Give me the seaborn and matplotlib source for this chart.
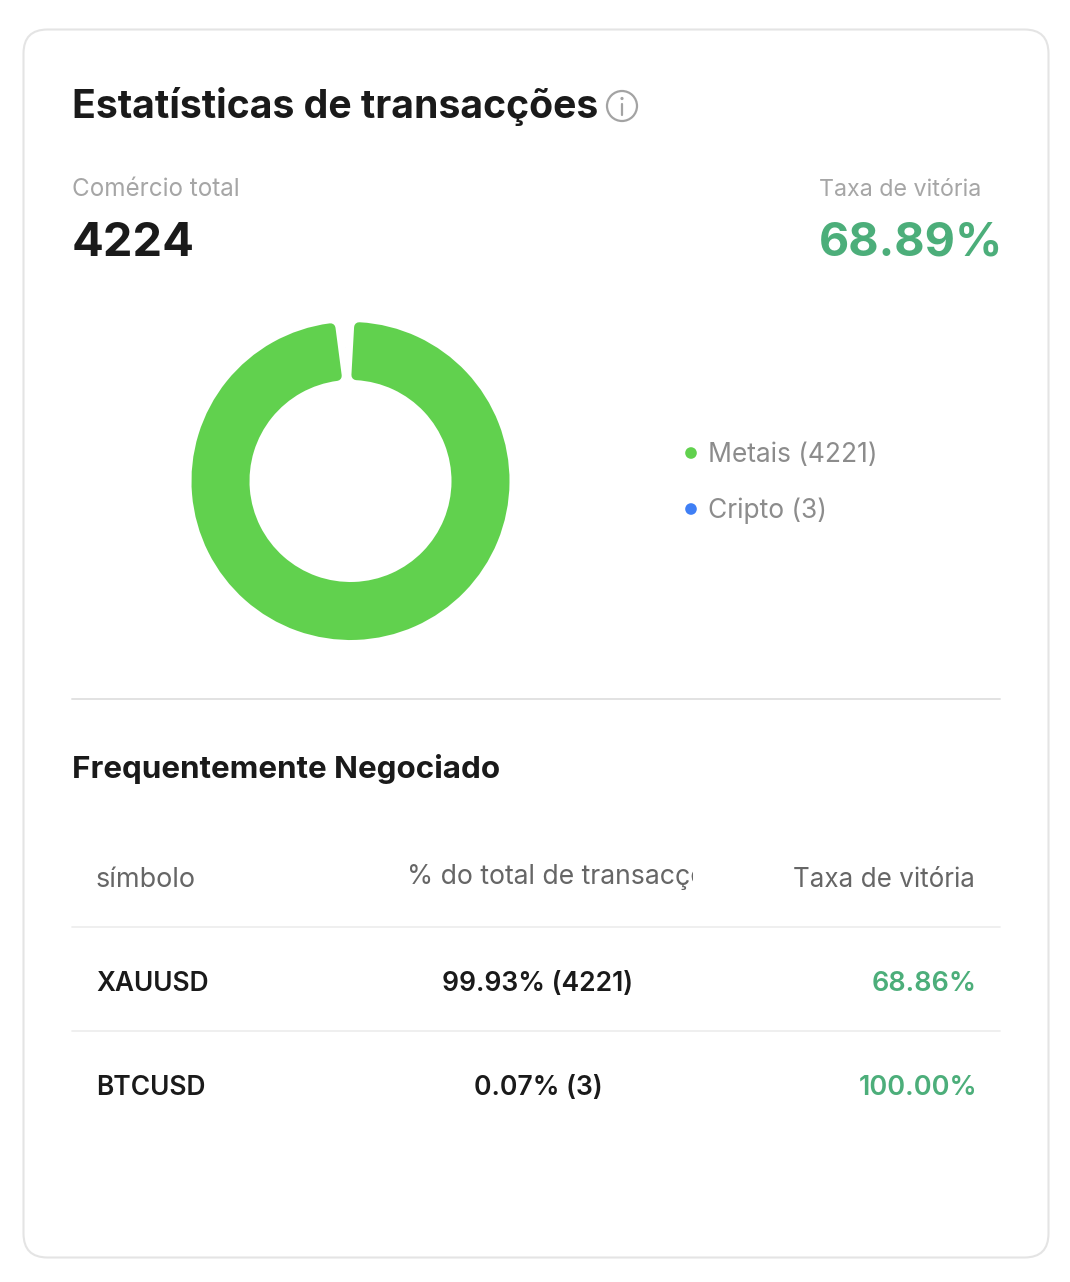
import matplotlib
matplotlib.use('Agg')
import matplotlib.pyplot as plt
from matplotlib.patches import Circle, FancyBboxPatch
from matplotlib.transforms import Bbox
import pandas as pd
import seaborn as sns

# dati
categories = ['Metais', 'Cripto']
trades = [4221, 3]
total_trades = '4224'
win_rate = '68.89%'
symbols = ['XAUUSD', 'BTCUSD']
shares = ['99.93% (4221)', '0.07% (3)']
symbol_rates = ['68.86%', '100.00%']
headers = ['símbolo', '% do total de transacções', 'Taxa de vitória']

GREEN = '#61d14e'
BLUE = '#3f7ff5'
WIN = '#4cae7a'
DARK = '#1a1a1a'
W, H = 1070, 1282


def px(size):
    # da pixel a punti (dpi 100)
    return size * 0.72


sns.set_theme(style='white')
plt.rcParams['font.family'] = ['Inter', 'DejaVu Sans']

fig = plt.figure(figsize=(W / 100, H / 100), dpi=100, facecolor='white')

# asse di sfondo in pixel per card e testi
ax = fig.add_axes([0, 0, 1, 1])
ax.set_xlim(0, W)
ax.set_ylim(H, 0)
ax.axis('off')

ax.add_patch(FancyBboxPatch((23.5, 29.5), 1025, 1228, boxstyle='round,pad=0,rounding_size=24',
                            fc='white', ec='#e4e4e4', lw=1.5))

ax.text(72, 118, 'Estatísticas de transacções', fontsize=px(39.2), fontweight='bold', color=DARK)
ax.add_patch(Circle((622, 106), 15, fc='none', ec='#a3a3a3', lw=1.6))
ax.plot([622, 622], [104, 115], color='#a3a3a3', lw=1.6)
ax.add_patch(Circle((622, 98.5), 1.6, fc='#a3a3a3', ec='none'))

ax.text(72, 196, 'Comércio total', fontsize=px(24.2), color='#a6a6a6')
ax.text(72, 256, total_trades, fontsize=px(47), fontweight='bold', color=DARK)
ax.text(819, 196, 'Taxa de vitória', fontsize=px(23.3), color='#a6a6a6')
ax.text(819, 256, win_rate, fontsize=px(46.7), fontweight='bold', color=WIN)

# legenda
legend = pd.DataFrame({'x': [691, 691], 'y': [453, 509], 'cat': categories})
sns.scatterplot(data=legend, x='x', y='y', hue='cat', palette=[GREEN, BLUE], s=70,
                linewidth=0, legend=False, ax=ax)
ax.set_xlim(0, W)
ax.set_ylim(H, 0)
for cat, n, y in zip(categories, trades, legend['y']):
    ax.text(708, y + 9, f'{cat} ({n})', fontsize=px(26.4), color='#8c8c8c')

ax.plot([72, 1000], [699, 699], color='#e2e2e2', lw=1.4)
ax.text(72, 778, 'Frequentemente Negociado', fontsize=px(31.4), fontweight='bold', color=DARK)

# intestazione tabella (la colonna centrale e tagliata come nell'originale)
ax.text(96, 887, headers[0], fontsize=px(27), color='#666666')
head = ax.text(407, 884, headers[1], fontsize=px(26.6), color='#666666')
head.set_clip_box(Bbox.from_extents(400, 300, 693, 500))
head.set_clip_on(True)
ax.text(975, 887, headers[2], fontsize=px(26), color='#666666', ha='right')

row_base = [991, 1095]
for sym, share, rate, y in zip(symbols, shares, symbol_rates, row_base):
    ax.plot([72, 1000], [y - 64, y - 64], color='#ececec', lw=1.2)
    ax.text(96, y, sym, fontsize=px(26.3), fontweight='semibold', color=DARK)
    ax.text(538, y, share, fontsize=px(26.5), fontweight='semibold', color=DARK, ha='center')
    ax.text(977, y, rate, fontsize=px(27), fontweight='semibold', color=WIN, ha='right')

# ciambella
pie_ax = fig.add_axes([191.5 / W, 1 - 640 / H, 318 / W, 318 / H])
wedges, _ = pie_ax.pie(trades, colors=[GREEN, BLUE], startangle=92, counterclock=False, radius=1)
pie_ax.set_xlim(-1, 1)
pie_ax.set_ylim(-1, 1)

# spazio tra le fette e angoli arrotondati con il bordo
wedges[0].set_theta1(wedges[0].theta1 + 5.2)
wedges[0].set_theta2(wedges[0].theta2 - 5.2)
wedges[0].set_radius(154 / 159)
wedges[0].set_width(48 / 159)
wedges[0].set_edgecolor(GREEN)
wedges[0].set_linewidth(px(10))
wedges[0].set_joinstyle('round')
wedges[1].set_radius(136 / 159)
wedges[1].set_width(2 / 159)

fig.savefig('out.png', dpi=100)
